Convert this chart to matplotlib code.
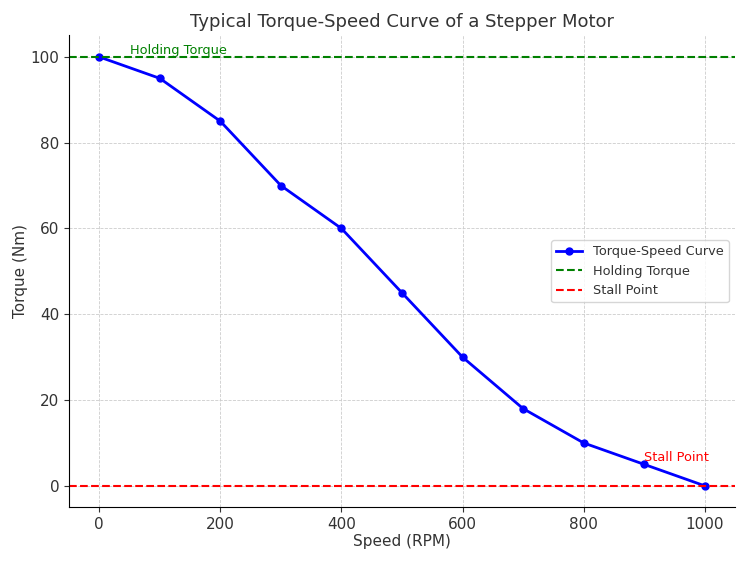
import matplotlib.pyplot as plt

# data
speed = [0, 100, 200, 300, 400, 500, 600, 700, 800, 900, 1000]
torque = [100, 95, 85, 70, 60, 45, 30, 18, 10, 5, 0]
holding_torque = 100
stall_speed = 1000
stall_torque = 0

plt.rcParams['text.color'] = '#333333'
plt.rcParams['axes.labelcolor'] = '#333333'
plt.rcParams['xtick.color'] = '#333333'
plt.rcParams['ytick.color'] = '#333333'

fig, ax = plt.subplots(figsize=(7.5, 5.63), dpi=100)

ax.plot(speed, torque, marker='o', color='blue', linewidth=2, markersize=5,
        label='Torque-Speed Curve')
ax.axhline(holding_torque, color='green', linestyle='--', linewidth=1.5, label='Holding Torque')
ax.axhline(stall_torque, color='red', linestyle='--', linewidth=1.5, label='Stall Point')

ax.text(50, holding_torque, 'Holding Torque', color='green', fontsize=9.3, va='bottom')
ax.text(900, torque[-2], 'Stall Point', color='red', fontsize=9.3, va='bottom')

ax.set_title('Typical Torque-Speed Curve of a Stepper Motor', fontsize=13)
ax.set_xlabel('Speed (RPM)', fontsize=11, labelpad=1.5)
ax.set_ylabel('Torque (Nm)', fontsize=11, labelpad=1.5)
ax.tick_params(labelsize=11)

ax.grid(True, linestyle='--', color='#cccccc', linewidth=0.6)
ax.spines['top'].set_visible(False)
ax.spines['right'].set_visible(False)

ax.legend(loc='center right', fontsize=9.3)

plt.subplots_adjust(left=0.092, right=0.98, top=0.937, bottom=0.099)
plt.savefig('out.png')
